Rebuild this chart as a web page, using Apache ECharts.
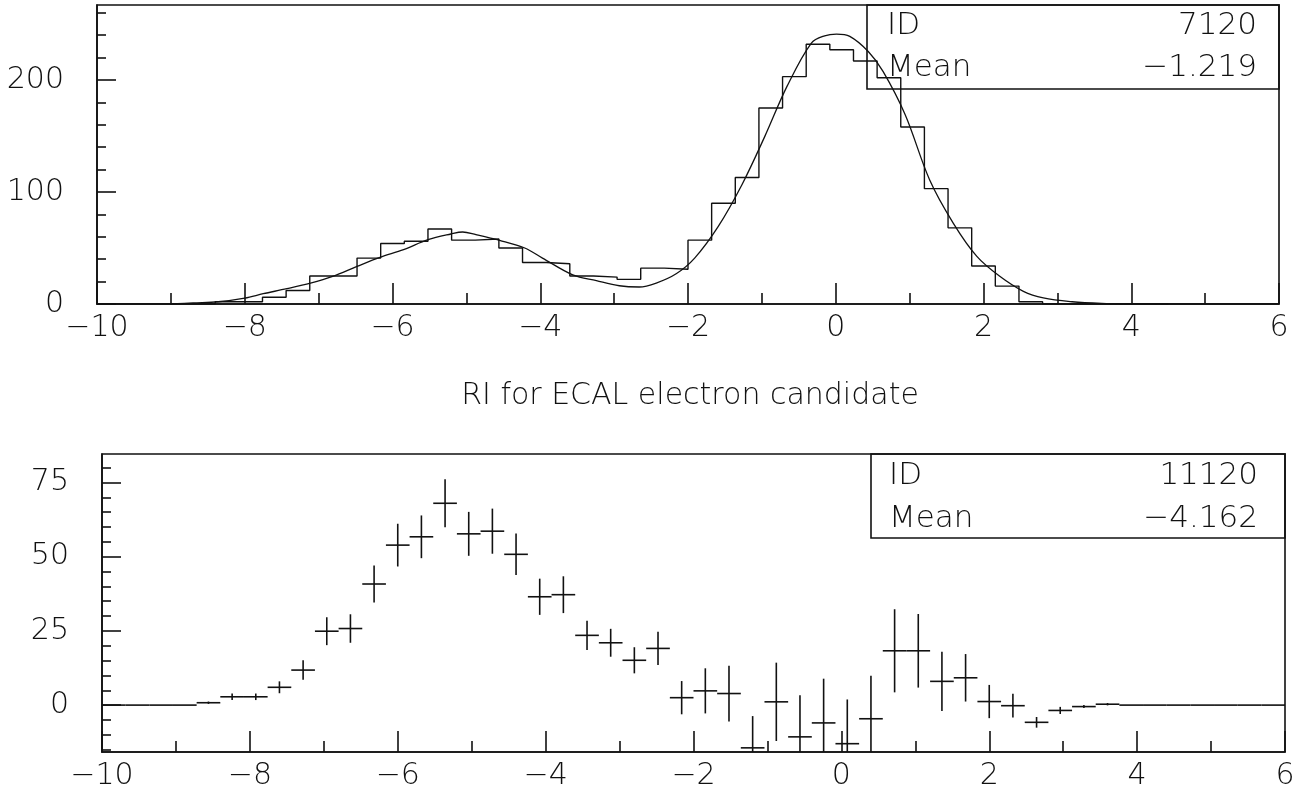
<!DOCTYPE html>
<html>
<head>
<meta charset="utf-8">
<title>RI for ECAL electron candidate</title>
<script src="https://cdn.jsdelivr.net/npm/echarts@6/dist/echarts.min.js"></script>
<style>
  html, body { margin: 0; padding: 0; background: #ffffff; }
  #chart { width: 1309px; height: 794px; }
</style>
</head>
<body>
<div id="chart"></div>
<script>
// Histogram binning: 50 bins of width 0.32 between -10 and 6
const binLow = -10;
const binWidth = 0.32;
const nBins = 50;

// Upper panel: raw RI distribution (counts per bin)
const rawCounts = [
  0, 0, 0, 0, 0, 2, 2, 6, 12, 25,
  25, 41, 54, 56, 67, 57, 58, 50, 37, 36,
  25, 24, 22, 32, 31, 57, 90, 113, 175, 203,
  232, 227, 217, 202, 158, 103, 68, 34, 16, 2,
  0, 0, 0, 0, 0, 0, 0, 0, 0, 0
];

// Upper panel: fitted two-peak curve
const fitX = [-9.0, -8.7, -8.36, -8.0, -7.75, -7.43, -7.11, -6.81, -6.48, -6.17,
  -5.85, -5.52, -5.21, -5.05, -4.87, -4.55, -4.21, -3.97, -3.56, -3.24,
  -2.93, -2.66, -2.43, -2.16, -1.91, -1.59, -1.27, -0.96, -0.66, -0.33,
  -0.15, 0.01, 0.19, 0.44, 0.64, 0.94, 1.27, 1.59, 1.91, 2.22,
  2.54, 2.81, 3.2, 3.6, 4.0, 4.5];
const fitY = [0, 1.0, 2.0, 5.3, 9.2, 13.7, 18.7, 24.7, 33.6, 41.6,
  48.5, 57.4, 62.5, 64.3, 61.9, 56.8, 50.0, 41.0, 26.0, 20.8,
  16.3, 15.2, 18.7, 27.0, 41.0, 69.3, 106.5, 149.7, 194.3, 233.0,
  239.5, 241.0, 239.0, 225.5, 207.7, 169.0, 111.0, 72.3, 42.5, 24.7,
  11.3, 5.4, 2.0, 0.5, 0.1, 0];

// Lower panel: subtracted distribution with errors
const subValues = [
  0, 0, 0, 0, 0.8, 2.8, 2.8, 6.0, 11.8, 24.9,
  25.8, 40.8, 53.9, 56.7, 68.0, 57.7, 58.6, 50.8, 36.5, 37.2,
  23.5, 21.0, 15.1, 19.1, 2.5, 4.8, 3.9, -14.4, 1.1, -10.7,
  -6.0, -13.0, -4.6, 18.3, 18.3, 8.0, 9.2, 1.2, -0.2, -5.8,
  -1.8, -0.5, 0.3, 0, 0, 0, 0, 0, 0, 0
];
const subErrors = [
  0, 0, 0, 0, 0.4, 1.1, 1.1, 2.0, 3.3, 4.7,
  4.8, 6.2, 7.2, 7.2, 8.1, 7.4, 7.6, 7.0, 6.1, 6.2,
  4.9, 4.7, 4.4, 5.6, 5.6, 7.6, 9.4, 10.7, 13.2, 14.0,
  14.9, 14.9, 14.5, 14.0, 12.4, 10.0, 8.0, 5.6, 4.0, 1.8,
  1.2, 0.5, 0.4, 0, 0, 0, 0, 0, 0, 0
];

// Tick positions
const xTicks = [-10, -8, -6, -4, -2, 0, 2, 4, 6];
const xMinorTicks = [-9, -7, -5, -3, -1, 1, 3, 5];
const topYTicks = [0, 100, 200];
const topYMinorTicks = [20, 40, 60, 80, 120, 140, 160, 180, 220, 240, 260];
const botYTicks = [0, 25, 50, 75];
const botYMinorTicks = [-15, -10, -5, 5, 10, 15, 20, 30, 35, 40, 45, 55, 60, 65, 70, 80];

// Statistics boxes and caption
const statLabels = ['ID', 'Mean'];
const statsTop = ['7120', '\u22121.219'];
const statsBottom = ['11120', '\u22124.162'];
const captionText = 'RI for ECAL electron candidate';

const FONT = '"DejaVu Sans", "Open Sans", sans-serif';
const WEIGHT = 200;
const INK = '#111111';
const fmt = v => String(v).replace('-', '\u2212');

// Step outline points at bin edges
const stepData = rawCounts.map((c, k) => [binLow + k * binWidth, c]);
stepData.push([binLow + nBins * binWidth, rawCounts[nBins - 1]]);

const fitData = fitX.map((x, i) => [x, fitY[i]]);

const errData = subValues.map((v, k) => {
  const lo = binLow + k * binWidth;
  return [lo + binWidth / 2, v, subErrors[k], lo, lo + binWidth];
});

const labelStyle = { color: INK, fontFamily: FONT, fontWeight: WEIGHT, fontSize: 30 };

function majorX(gridIndex) {
  return {
    type: 'value', gridIndex, min: -10, max: 6, position: 'bottom',
    axisLine: { show: true, onZero: false, lineStyle: { color: INK, width: 1.6 } },
    axisTick: { show: true, inside: true, length: 21, customValues: xTicks, lineStyle: { color: INK, width: 1.6 } },
    axisLabel: Object.assign({ show: true, customValues: xTicks, formatter: fmt, margin: 9 }, labelStyle),
    splitLine: { show: false }
  };
}
function minorX(gridIndex) {
  return {
    type: 'value', gridIndex, min: -10, max: 6, position: 'bottom',
    axisLine: { show: false, onZero: false },
    axisTick: { show: true, inside: true, length: 11, customValues: xMinorTicks, lineStyle: { color: INK, width: 1.6 } },
    axisLabel: { show: false },
    splitLine: { show: false }
  };
}
function majorY(gridIndex, min, max, ticks) {
  return {
    type: 'value', gridIndex, min, max, position: 'left',
    axisLine: { show: true, onZero: false, lineStyle: { color: INK, width: 1.6 } },
    axisTick: { show: true, inside: true, length: 19, customValues: ticks, lineStyle: { color: INK, width: 1.6 } },
    axisLabel: Object.assign({ show: true, customValues: ticks, formatter: fmt, margin: 33 }, labelStyle),
    splitLine: { show: false }
  };
}
function minorY(gridIndex, min, max, ticks) {
  return {
    type: 'value', gridIndex, min, max, position: 'left',
    axisLine: { show: false, onZero: false },
    axisTick: { show: true, inside: true, length: 9, customValues: ticks, lineStyle: { color: INK, width: 1.6 } },
    axisLabel: { show: false },
    splitLine: { show: false }
  };
}

function statBox(x1, y1, x2, y2, values, textLeft, valueRight, row1, row2) {
  const style = { fill: INK, font: WEIGHT + ' 31px ' + FONT, textVerticalAlign: 'middle' };
  return [
    { type: 'rect', shape: { x: x1, y: y1, width: x2 - x1, height: y2 - y1 },
      style: { fill: 'none', stroke: INK, lineWidth: 1.6 }, z: 10 },
    { type: 'text', x: textLeft, y: row1, style: Object.assign({ text: statLabels[0], textAlign: 'left' }, style), z: 10 },
    { type: 'text', x: textLeft, y: row2, style: Object.assign({ text: statLabels[1], textAlign: 'left' }, style), z: 10 },
    { type: 'text', x: valueRight, y: row1, style: Object.assign({ text: values[0], textAlign: 'right' }, style), z: 10 },
    { type: 'text', x: valueRight, y: row2, style: Object.assign({ text: values[1], textAlign: 'right' }, style), z: 10 }
  ];
}

const chart = echarts.init(document.getElementById('chart'), null, { renderer: 'canvas' });

chart.setOption({
  animation: false,
  backgroundColor: '#ffffff',
  textStyle: { fontFamily: FONT, color: INK },
  grid: [
    { left: 97, top: 5, width: 1182, height: 299, containLabel: false,
      show: true, borderColor: INK, borderWidth: 1.6, backgroundColor: 'transparent' },
    { left: 102, top: 454, width: 1183, height: 298, containLabel: false,
      show: true, borderColor: INK, borderWidth: 1.6, backgroundColor: 'transparent' }
  ],
  xAxis: [majorX(0), minorX(0), majorX(1), minorX(1)],
  yAxis: [
    majorY(0, 0, 267, topYTicks),
    minorY(0, 0, 267, topYMinorTicks),
    majorY(1, -15.8, 84.6, botYTicks),
    minorY(1, -15.8, 84.6, botYMinorTicks)
  ],
  series: [
    {
      name: 'counts', type: 'line', xAxisIndex: 0, yAxisIndex: 0,
      step: 'end', data: stepData, showSymbol: false, symbol: 'none',
      lineStyle: { color: INK, width: 1.4 }, silent: true
    },
    {
      name: 'fit', type: 'line', xAxisIndex: 0, yAxisIndex: 0,
      smooth: 0.35, data: fitData, showSymbol: false, symbol: 'none',
      lineStyle: { color: INK, width: 1.3 }, silent: true
    },
    {
      name: 'subtracted', type: 'custom', xAxisIndex: 2, yAxisIndex: 2,
      clip: true, silent: true, data: errData,
      encode: { x: [0, 3, 4], y: 1 },
      renderItem: function (params, api) {
        const c = api.value(0), v = api.value(1), e = api.value(2);
        const lo = api.value(3), hi = api.value(4);
        const pl = api.coord([lo, v]);
        const pr = api.coord([hi, v]);
        const children = [{
          type: 'line', shape: { x1: pl[0], y1: pl[1], x2: pr[0], y2: pr[1] },
          style: { stroke: INK, lineWidth: 1.6 }
        }];
        if (e > 0) {
          const pt = api.coord([c, v + e]);
          const pb = api.coord([c, v - e]);
          children.push({
            type: 'line', shape: { x1: pt[0], y1: pt[1], x2: pb[0], y2: pb[1] },
            style: { stroke: INK, lineWidth: 1.6 }
          });
        }
        return { type: 'group', children };
      }
    }
  ],
  graphic: [
    ...statBox(867, 5, 1279, 89, statsTop, 887, 1257, 26, 68),
    ...statBox(871, 454, 1285, 538, statsBottom, 889, 1258, 476, 519),
    { type: 'text', x: 690, y: 396,
      style: { text: captionText, textAlign: 'center', textVerticalAlign: 'middle',
        fill: INK, font: WEIGHT + ' 30px ' + FONT }, z: 10 }
  ]
});
</script>
</body>
</html>
